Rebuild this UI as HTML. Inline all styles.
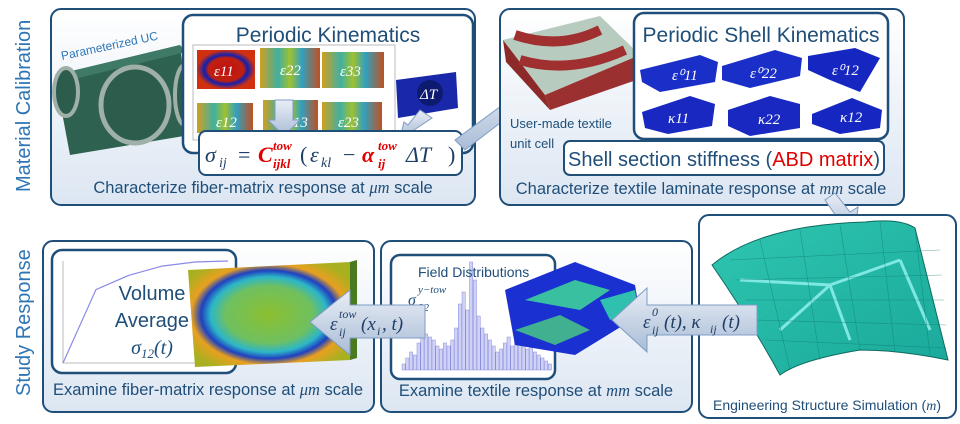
<!DOCTYPE html>
<html><head><meta charset="utf-8"><style>
html,body{margin:0;padding:0;background:#fff;}
svg{display:block;font-family:"Liberation Sans",sans-serif;}
.cap{fill:#1f4e79;font-size:16.5px;}
.math{font-family:"Liberation Serif",serif;font-style:italic;}
</style></head><body>
<svg width="960" height="424" viewBox="0 0 960 424">
<defs>
<linearGradient id="pg" x1="0" y1="0" x2="0" y2="1"><stop offset="0" stop-color="#ffffff"/><stop offset="1" stop-color="#dce6f2"/></linearGradient>
<linearGradient id="ar" x1="0" y1="0" x2="0" y2="1"><stop offset="0" stop-color="#e9eef6"/><stop offset="1" stop-color="#a9bcd6"/></linearGradient>
<radialGradient id="fm" cx="0.5" cy="0.5" r="0.6"><stop offset="0" stop-color="#8cbf30"/><stop offset="0.45" stop-color="#6fc060"/><stop offset="0.6" stop-color="#2cb6c8"/><stop offset="0.7" stop-color="#2040c0"/><stop offset="0.8" stop-color="#e8a020"/><stop offset="1" stop-color="#a8b020"/></radialGradient>
<radialGradient id="rb" cx="0.5" cy="0.5" r="0.5"><stop offset="0" stop-color="#c01010"/><stop offset="0.6" stop-color="#c02010"/><stop offset="0.75" stop-color="#1020b0"/><stop offset="1" stop-color="#d03010"/></radialGradient>
<linearGradient id="gy" x1="0" y1="0" x2="1" y2="0"><stop offset="0" stop-color="#d0a020"/><stop offset="0.3" stop-color="#40b0a0"/><stop offset="0.5" stop-color="#a0c030"/><stop offset="0.7" stop-color="#30a0c0"/><stop offset="1" stop-color="#c05020"/></linearGradient>
<linearGradient id="hood" x1="0" y1="0" x2="1" y2="1"><stop offset="0" stop-color="#2ec6b0"/><stop offset="1" stop-color="#1aa89a"/></linearGradient>
</defs>

<text transform="translate(30,192) rotate(-90)" font-size="20" fill="#2e75b6">Material Calibration</text>
<text transform="translate(30,396) rotate(-90)" font-size="20" fill="#2e75b6">Study Response</text>

<g>
<rect x="51" y="9" width="424" height="196" rx="10" fill="url(#pg)" stroke="#1f4e79" stroke-width="2"/>
<g>
<polygon points="55,75 180,45 190,135 70,155" fill="#2f6150"/>
<polygon points="55,75 180,45 186,52 62,82" fill="#3f7a66"/>
<ellipse cx="135" cy="105" rx="34" ry="38" fill="#2c5c4c" stroke="#9fb0a8" stroke-width="5"/>
<ellipse cx="66" cy="92" rx="12" ry="24" fill="#2c5c4c" stroke="#9fb0a8" stroke-width="4"/>
<ellipse cx="185" cy="95" rx="10" ry="30" fill="#2c5c4c" stroke="#9fb0a8" stroke-width="4"/>
<text x="62" y="60" font-size="12" fill="#2e75b6" transform="rotate(-12,62,60)">Parameterized UC</text>
</g>
<rect x="183" y="15" width="290" height="138" rx="10" fill="#fff" stroke="#1f4e79" stroke-width="2.5"/>
<text x="328" y="42" font-size="21" fill="#1f4e79" text-anchor="middle">Periodic Kinematics</text>
<rect x="193" y="45" width="202" height="95" fill="#fff" stroke="#bbb" stroke-width="1"/>
<g font-family="Liberation Serif,serif" font-style="italic" font-size="15" fill="#fff">
<rect x="197" y="50" width="58" height="39" fill="url(#rb)"/><text x="214" y="76">ε11</text>
<rect x="260" y="48" width="60" height="40" fill="url(#gy)"/><text x="280" y="75">ε22</text>
<rect x="322" y="52" width="62" height="36" fill="url(#gy)"/><text x="340" y="76">ε33</text>
<rect x="197" y="103" width="56" height="30" fill="url(#gy)"/><text x="216" y="127">ε12</text>
<rect x="263" y="100" width="55" height="32" fill="url(#gy)"/><text x="287" y="127">ε13</text>
<rect x="322" y="102" width="60" height="30" fill="url(#gy)"/><text x="338" y="127">ε23</text>
<polygon points="396,80 456,72 458,108 398,118" fill="#1828a8"/>
<circle cx="430" cy="93" r="13" fill="#0c1a70"/><text x="420" y="99">ΔT</text>
</g>
<polygon points="275,100 293,100 293,120 300,120 284,136 268,120 275,120" fill="url(#ar)" stroke="#7f9cc4"/>
<polygon points="420,110 432,118 414,130 418,133 400,138 404,122 408,125" fill="url(#ar)" stroke="#7f9cc4"/>
<rect x="199" y="131" width="263" height="44" rx="7" fill="#fff" stroke="#1f4e79" stroke-width="2"/>
<g class="math" fill="#1f3f66">
<text x="205" y="162" font-size="22">σ</text>
<text x="219" y="167" font-size="14">ij</text>
<text x="238" y="162" font-size="22" font-style="normal">=</text>
<text x="258" y="162" font-size="22" fill="#e00000" font-weight="bold">C</text>
<text x="273" y="150" font-size="13" fill="#e00000" font-weight="bold">tow</text>
<text x="273" y="168" font-size="13" fill="#e00000" font-weight="bold">ijkl</text>
<text x="300" y="162" font-size="22" font-style="normal">(</text>
<text x="310" y="162" font-size="22">ε</text>
<text x="321" y="167" font-size="14">kl</text>
<text x="343" y="162" font-size="22" font-style="normal">−</text>
<text x="362" y="162" font-size="22" fill="#e00000" font-weight="bold">α</text>
<text x="378" y="150" font-size="13" fill="#e00000" font-weight="bold">tow</text>
<text x="378" y="168" font-size="13" fill="#e00000" font-weight="bold">ij</text>
<text x="406" y="162" font-size="22">ΔT</text>
<text x="448" y="162" font-size="22" font-style="normal">)</text>
</g>
<text x="263" y="193" class="cap" text-anchor="middle">Characterize fiber-matrix response at <tspan class="math">μm</tspan> scale</text>
</g>

<polygon points="455,140 520,92 514,84 545,78 535,108 530,100 465,150" fill="url(#ar)" stroke="#7f9cc4"/>

<g>
<rect x="500" y="9" width="404" height="196" rx="10" fill="url(#pg)" stroke="#1f4e79" stroke-width="2"/>
<g>
<polygon points="503,40 600,16 640,55 545,95" fill="#b8cbbf"/>
<polygon points="503,40 545,95 550,110 506,62" fill="#8c2a2a"/>
<polygon points="545,95 640,55 642,78 550,110" fill="#9a3030"/>
<path d="M515,35 Q560,50 600,30 M520,60 Q570,75 625,50" stroke="#a03030" stroke-width="10" fill="none"/>
</g>
<text x="510" y="128" font-size="13" fill="#1f4e79">User-made textile</text>
<text x="510" y="148" font-size="13" fill="#1f4e79">unit cell</text>
<rect x="634" y="13" width="254" height="126" rx="10" fill="#fff" stroke="#1f4e79" stroke-width="2.5"/>
<text x="761" y="42" font-size="21" fill="#1f4e79" text-anchor="middle">Periodic Shell Kinematics</text>
<g font-family="Liberation Serif,serif" font-style="italic" font-size="15" fill="#fff">
<polygon points="640,70 700,55 718,62 715,82 660,92 642,82" fill="#1a2fc8"/><text x="672" y="80">ε⁰11</text>
<polygon points="722,66 775,50 802,58 800,76 750,88 722,80" fill="#1a2fc8"/><text x="750" y="78">ε⁰22</text>
<polygon points="808,56 855,48 880,58 860,92 830,80 808,70" fill="#1626c0"/><text x="832" y="75">ε⁰12</text>
<polygon points="642,112 690,96 715,104 712,126 668,134 645,128" fill="#1828c0"/><text x="668" y="123">κ11</text>
<polygon points="728,110 770,96 800,104 800,128 750,136 728,126" fill="#1828c0"/><text x="758" y="124">κ22</text>
<polygon points="812,114 852,98 882,110 880,128 840,134 812,124" fill="#1626c0"/><text x="840" y="122">κ12</text>
</g>
<rect x="564" y="141" width="320" height="34" rx="6" fill="#fff" stroke="#1f4e79" stroke-width="2"/>
<text x="724" y="166" font-size="20" fill="#1f4e79" text-anchor="middle">Shell section stiffness (<tspan fill="#e00000">ABD matrix</tspan>)</text>
<text x="701" y="194" class="cap" text-anchor="middle">Characterize textile laminate response at <tspan class="math">mm</tspan> scale</text>
</g>

<polygon points="825,200 835,193 850,212 858,207 855,235 830,224 838,219" fill="url(#ar)" stroke="#7f9cc4"/>

<g>
<rect x="699" y="215" width="257" height="203" rx="10" fill="#fff" stroke="#1f4e79" stroke-width="2"/>
<path d="M712,265 Q760,225 865,222 Q900,218 915,228 L948,360 Q900,350 860,350 Q800,360 780,375 Q750,320 712,265 Z" fill="url(#hood)" stroke="#0e6a60"/>
<path d="M740,280 L830,285 L900,260 M830,285 L850,340 M780,330 L830,285 M900,260 L930,330" stroke="#7fe8e0" stroke-width="3" fill="none"/>
<g stroke="#0e7a70" stroke-width="0.6" opacity="0.6">
<path d="M730,260 L940,250 M735,280 L942,275 M745,300 L944,300 M755,320 L946,325 M765,340 L946,348"/>
<path d="M760,240 L790,370 M800,230 L820,360 M840,225 L860,350 M880,222 L895,352 M915,228 L930,355"/>
</g>
<text x="827" y="410" font-size="14" fill="#1f4e79" text-anchor="middle">Engineering Structure Simulation (<tspan class="math">m</tspan>)</text>
</g>

<g>
<rect x="381" y="241" width="311" height="171" rx="10" fill="url(#pg)" stroke="#1f4e79" stroke-width="2"/>
<rect x="391" y="255" width="164" height="124" rx="9" fill="#fff" stroke="#1f4e79" stroke-width="2.5"/>
<g id="hist"></g>
<text x="418" y="277" font-size="14" fill="#1f4e79">Field Distributions</text>
<g class="math" fill="#1f4e79">
<text x="408" y="305" font-size="16">σ</text>
<text x="418" y="293" font-size="11">y−tow</text>
<text x="418" y="311" font-size="11">22</text>
</g>
<g>
<polygon points="505,290 575,262 635,285 640,315 575,355 515,345" fill="#1a30d0"/>
<polygon points="525,300 575,280 610,290 580,310" fill="#38c0a0"/>
<polygon points="515,330 560,315 590,330 555,345" fill="#40b090"/>
<polygon points="600,300 635,290 638,310 610,320" fill="#30c0b0"/>
</g>
<text x="536" y="396" class="cap" text-anchor="middle">Examine textile response at <tspan class="math">mm</tspan> scale</text>
</g>

<polygon points="757,305 757,335 647,335 647,352 612,320 647,288 647,305" fill="url(#ar)" stroke="#7f9cc4"/>
<g class="math" fill="#1f3f66">
<text x="643" y="328" font-size="19">ε</text>
<text x="652" y="316" font-size="12">0</text>
<text x="652" y="334" font-size="12">ij</text>
<text x="664" y="328" font-size="19">(t), κ</text>
<text x="710" y="333" font-size="12">ij</text>
<text x="722" y="328" font-size="19">(t)</text>
</g>

<g>
<rect x="43" y="241" width="331" height="171" rx="10" fill="url(#pg)" stroke="#1f4e79" stroke-width="2"/>
<rect x="52" y="250" width="184" height="123" rx="10" fill="#fff" stroke="#1f4e79" stroke-width="2.5"/>
<g id="line"></g>
<polygon points="188,270 350,262 350,360 195,367" fill="url(#fm)"/>
<polygon points="350,262 357,260 357,358 350,360" fill="#4a7a20"/>
<text x="152" y="300" font-size="20" fill="#1f4e79" text-anchor="middle">Volume</text>
<text x="152" y="327" font-size="20" fill="#1f4e79" text-anchor="middle">Average</text>
<text x="152" y="354" font-size="20" class="math" fill="#1f4e79" text-anchor="middle">σ<tspan font-size="13" dy="4">12</tspan><tspan dy="-4">(t)</tspan></text>
<text x="208" y="395" class="cap" text-anchor="middle">Examine fiber-matrix response at <tspan class="math">μm</tspan> scale</text>
</g>
<polygon points="425,305 425,338 350,338 350,355 310,322 350,290 350,305" fill="url(#ar)" stroke="#7f9cc4"/>
<g class="math" fill="#1f3f66">
<text x="330" y="330" font-size="19">ε</text>
<text x="339" y="318" font-size="12">tow</text>
<text x="339" y="336" font-size="12">ij</text>
<text x="361" y="330" font-size="19">(x</text>
<text x="377" y="335" font-size="12">i</text>
<text x="382" y="330" font-size="19">, t)</text>
</g>
</svg>
<script>
const histValues=[2,4,6,5,9,11,12,11,10,8,7,9,8,10,14,22,26,20,36,30,18,14,12,10,8,6,7,9,11,8,10,12,9,7,8,6,5,4,3,2];
const lineX=[0,1,2,3,4,5];
const lineY=[0,0.72,0.86,0.95,0.99,1.0];
const NS='http://www.w3.org/2000/svg';
(function(){
 const g=document.getElementById('hist');
 const x0=402,x1=552,yb=370,yt=262,max=36;
 const bw=(x1-x0)/histValues.length;
 histValues.forEach((v,i)=>{
  const r=document.createElementNS(NS,'rect');
  const h=v/max*(yb-yt);
  r.setAttribute('x',x0+i*bw);r.setAttribute('y',yb-h);
  r.setAttribute('width',bw-0.5);r.setAttribute('height',h);
  r.setAttribute('fill','#d0d2f4');r.setAttribute('stroke','#8a8ee0');r.setAttribute('stroke-width','0.5');
  
  
  g.appendChild(r);
 });
})();
(function(){
 const g=document.getElementById('line');
 const x0=63,x1=228,yb=363,yt=261;
 const sx=v=>x0+v/5*(x1-x0), sy=v=>yb-v*(yb-yt);
 const ax=document.createElementNS(NS,'path');
 ax.setAttribute('d',`M${x0},${yt} L${x0},${yb} L${x1},${yb}`);
 ax.setAttribute('stroke','#bbb');ax.setAttribute('fill','none');
 
 
 g.appendChild(ax);
 const p=document.createElementNS(NS,'polyline');
 p.setAttribute('points',lineX.map((x,i)=>sx(x)+','+sy(lineY[i])).join(' '));
 p.setAttribute('stroke','#8a8ae8');p.setAttribute('fill','none');p.setAttribute('stroke-width','1.2');
 
 
 g.appendChild(p);
})();
</script>
</body></html>
